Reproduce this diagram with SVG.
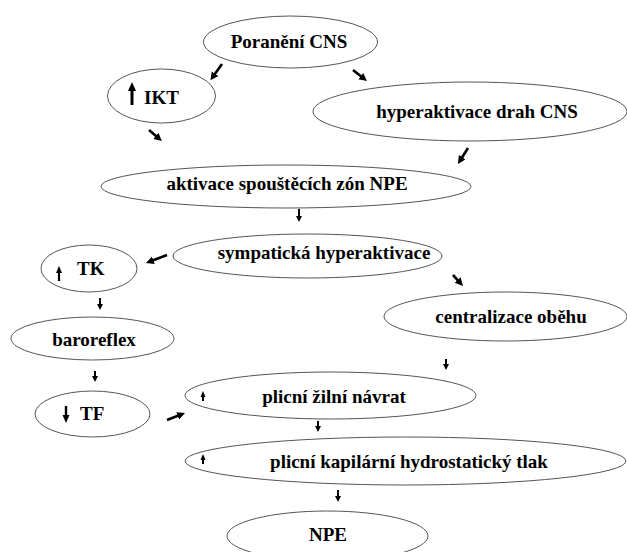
<svg xmlns="http://www.w3.org/2000/svg" width="627" height="552" viewBox="0 0 627 552">
<style>
.n{fill:#fff;stroke:#555;stroke-width:1}
.t{font-family:'Liberation Serif','DejaVu Serif','Times New Roman',serif;font-weight:bold;font-size:19px;fill:#000}
.m{text-anchor:middle}
.c{stroke:#000;stroke-width:2.6;fill:none}
.s{stroke:#000;stroke-width:2;fill:none}
.u{stroke:#000;fill:none}
.h{fill:#000;stroke:none}
</style>
<defs>
<marker id="big" markerUnits="userSpaceOnUse" markerWidth="10" markerHeight="10" refX="1" refY="4" orient="auto">
<path d="M0,0 L8,4 L0,8 z" fill="#000"/>
</marker>
<marker id="sm" markerUnits="userSpaceOnUse" markerWidth="8" markerHeight="8" refX="1" refY="3" orient="auto">
<path d="M0,0 L6,3 L0,6 z" fill="#000"/>
</marker>
</defs>
<rect width="627" height="552" fill="#fff"/>
<g id="connectors">
<line class="c" x1="222" y1="64" x2="214.5" y2="74.5" marker-end="url(#big)"/>
<line class="c" x1="353" y1="70" x2="361.5" y2="76.7" marker-end="url(#big)"/>
<line class="c" x1="149" y1="130" x2="156.6" y2="136.5" marker-end="url(#big)"/>
<line class="c" x1="468" y1="148" x2="461.7" y2="158" marker-end="url(#big)"/>
<line class="c" x1="167" y1="255" x2="152.5" y2="260.5" marker-end="url(#big)"/>
<line class="c" x1="453" y1="275" x2="458.3" y2="280.8" marker-end="url(#big)"/>
<line class="c" x1="167" y1="420" x2="178.5" y2="415.5" marker-end="url(#big)"/>
<line class="s" x1="299" y1="209" x2="299" y2="217" marker-end="url(#sm)"/>
<line class="s" x1="100" y1="298" x2="100" y2="305" marker-end="url(#sm)"/>
<line class="s" x1="95" y1="371" x2="95" y2="377" marker-end="url(#sm)"/>
<line class="s" x1="446" y1="359" x2="446" y2="365" marker-end="url(#sm)"/>
<line class="s" x1="318" y1="421" x2="318" y2="427" marker-end="url(#sm)"/>
<line class="s" x1="338" y1="490" x2="338" y2="497" marker-end="url(#sm)"/>
</g>
<g id="poraneni">
<ellipse class="n" cx="290.5" cy="42" rx="87" ry="26"/>
<text class="t m" x="289" y="48">Poranění CNS</text>
</g>
<g id="ikt">
<ellipse class="n" cx="161.5" cy="96" rx="54" ry="27"/>
<path class="u" stroke-width="3" d="M132,105 V89"/>
<path class="h" d="M128,91 L132,82 L136,91 z"/>
<text class="t" x="144" y="104">IKT</text>
</g>
<g id="hyperaktivace">
<ellipse class="n" cx="470" cy="111.5" rx="157" ry="29.5"/>
<text class="t m" x="477" y="118">hyperaktivace drah CNS</text>
</g>
<g id="aktivace">
<ellipse class="n" cx="286" cy="186.5" rx="185" ry="21.5"/>
<text class="t m" x="287" y="190">aktivace spouštěcích zón NPE</text>
</g>
<g id="sympaticka">
<ellipse class="n" cx="307.5" cy="256" rx="134.5" ry="22"/>
<text class="t m" x="324" y="259">sympatická hyperaktivace</text>
</g>
<g id="tk">
<ellipse class="n" cx="89" cy="268.5" rx="48" ry="23.5"/>
<path class="u" stroke-width="2.2" d="M59,281 V272"/>
<path class="h" d="M56,273 L59,266 L62,273 z"/>
<text class="t" x="77" y="275">TK</text>
</g>
<g id="centralizace">
<ellipse class="n" cx="505.5" cy="316.5" rx="121.5" ry="24.5"/>
<text class="t m" x="511" y="323">centralizace oběhu</text>
</g>
<g id="baroreflex">
<ellipse class="n" cx="92.5" cy="338.5" rx="81.5" ry="21.5"/>
<text class="t m" x="94" y="346">baroreflex</text>
</g>
<g id="tf">
<ellipse class="n" cx="92.5" cy="414" rx="57.5" ry="23"/>
<path class="u" stroke-width="2.4" d="M66,406 V416"/>
<path class="h" d="M62.5,415 L66,423 L69.5,415 z"/>
<text class="t" x="80" y="420">TF</text>
</g>
<g id="zilni">
<ellipse class="n" cx="330.5" cy="395.5" rx="145.5" ry="23.5"/>
<path class="u" stroke-width="2" d="M203,401 V396"/>
<path class="h" d="M200.5,397 L203,391 L205.5,397 z"/>
<text class="t m" x="334" y="403">plicní žilní návrat</text>
</g>
<g id="kapilarni">
<ellipse class="n" cx="405.5" cy="461" rx="220.5" ry="24"/>
<path class="u" stroke-width="2" d="M203,464 V459"/>
<path class="h" d="M200.5,460 L203,454 L205.5,460 z"/>
<text class="t m" x="409" y="468">plicní kapilární hydrostatický tlak</text>
</g>
<g id="npe">
<ellipse class="n" cx="327.5" cy="536" rx="100.5" ry="25"/>
<text class="t m" x="328" y="541">NPE</text>
</g>
</svg>
